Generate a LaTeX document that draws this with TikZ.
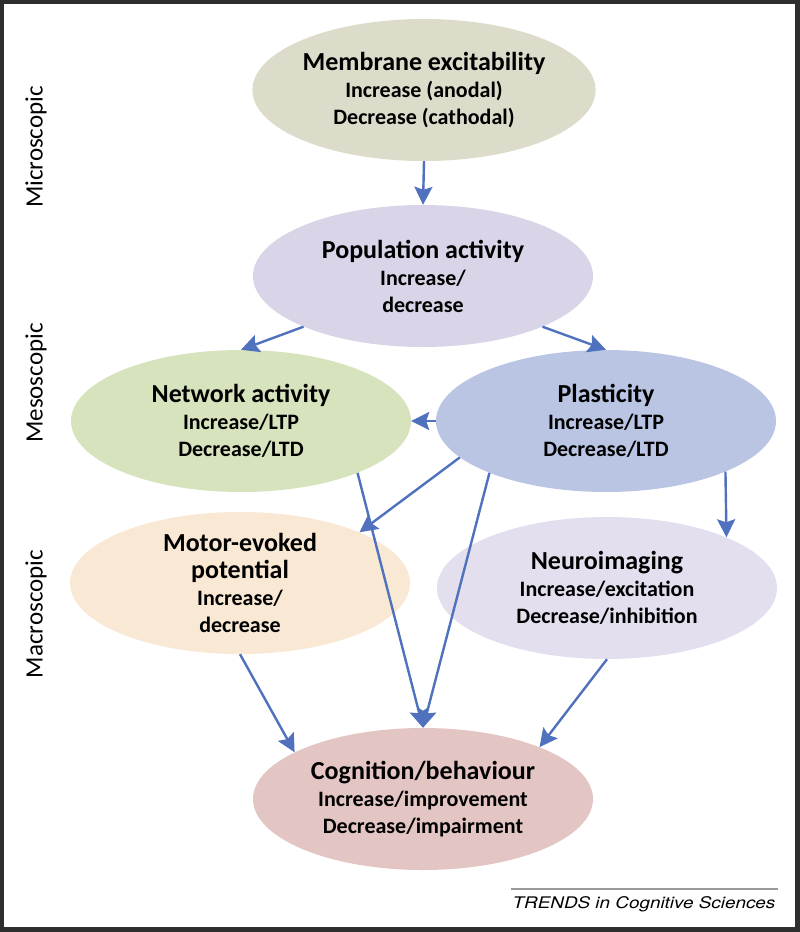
\documentclass[tikz,border=0pt]{standalone}
\usepackage{fontspec}
\setmainfont{Carlito}
\newfontfamily\trendsfont{TeX Gyre Heros}
\usetikzlibrary{shapes.geometric,arrows.meta}
\definecolor{framegray}{HTML}{2E2E2E}
\definecolor{membrane}{HTML}{DDDBC9}
\definecolor{population}{HTML}{DAD4E8}
\definecolor{network}{HTML}{D6E3BC}
\definecolor{plasticity}{HTML}{B9C5E3}
\definecolor{motor}{HTML}{F8E8D4}
\definecolor{imaging}{HTML}{E4DFEE}
\definecolor{cognition}{HTML}{E3C5C4}
\definecolor{arrowblue}{HTML}{4F71BE}
\newcommand{\hd}[1]{{\fontsize{26}{30}\selectfont #1}}

\begin{document}
\begin{tikzpicture}[x=1pt,y=-1pt,
    stage/.style={ellipse, inner sep=0pt, align=center, minimum width=340pt, minimum height=142pt,
                  font=\fontsize{22}{27}\selectfont\bfseries},
    flow/.style={-{Stealth[length=18pt,width=18pt,inset=3pt]}, line width=2.4pt, arrowblue},
    scalelabel/.style={rotate=90, font=\fontsize{25}{29}\selectfont}]

    % Frame
    \fill[framegray] (0,0) rectangle (800,932);
    \fill[white] (4,4) rectangle (795,927);
    \useasboundingbox (0,0) rectangle (800,932);

    % Scale labels
    \node[scalelabel] (micro) at (36,147) {Microscopic};
    \node[scalelabel] (meso) at (36,383) {Mesoscopic};
    \node[scalelabel] (macro) at (36,614) {Macroscopic};

    % Levels
    \node[stage, fill=membrane] (memb) at (424,90) {\hd{Membrane excitability}\\Increase (anodal)\\Decrease (cathodal)};
    \node[stage, fill=population] (pop) at (423,276) {\hd{Population activity}\\Increase/\\decrease};
    \node[stage, fill=network] (net) at (241,421) {\hd{Network activity}\\Increase/LTP\\Decrease/LTD};
    \node[stage, fill=plasticity] (plast) at (606,421) {\hd{Plasticity}\\Increase/LTP\\Decrease/LTD};
    \node[stage, fill=motor] (mep) at (240,583) {\hd{Motor-evoked}\\\hd{potential}\\Increase/\\decrease};
    \node[stage, fill=imaging] (neuro) at (607,588) {\hd{Neuroimaging}\\Increase/excitation\\Decrease/inhibition};
    \node[stage, fill=cognition] (cog) at (423,799) {\hd{Cognition/behaviour}\\Increase/improvement\\Decrease/impairment};

    % Arrows
    \draw[flow] (memb.south) -- (pop.north);
    \draw[flow] (pop.203) -- (net.north);
    \draw[flow] (pop.337) -- (plast.north);
    \draw[flow] (plast.west) -- (net.east);
    \draw[flow] (plast.194) -- (mep.23);
    \draw[flow] (net.336) -- (cog.north);
    \draw[flow] (plast.204) -- (cog.north);
    \draw[flow] (plast.337) -- (neuro.23);
    \draw[flow] (mep.south) -- (cog.160);
    \draw[flow] (neuro.south) -- (cog.24);

    % Journal mark
    \draw[line width=2pt, black!40] (511,889) -- (778,889);
    \node[font=\trendsfont\itshape\fontsize{16}{19}\selectfont, xscale=1.18] (trends) at (644,904) {TRENDS in Cognitive Sciences};
\end{tikzpicture}
\end{document}
